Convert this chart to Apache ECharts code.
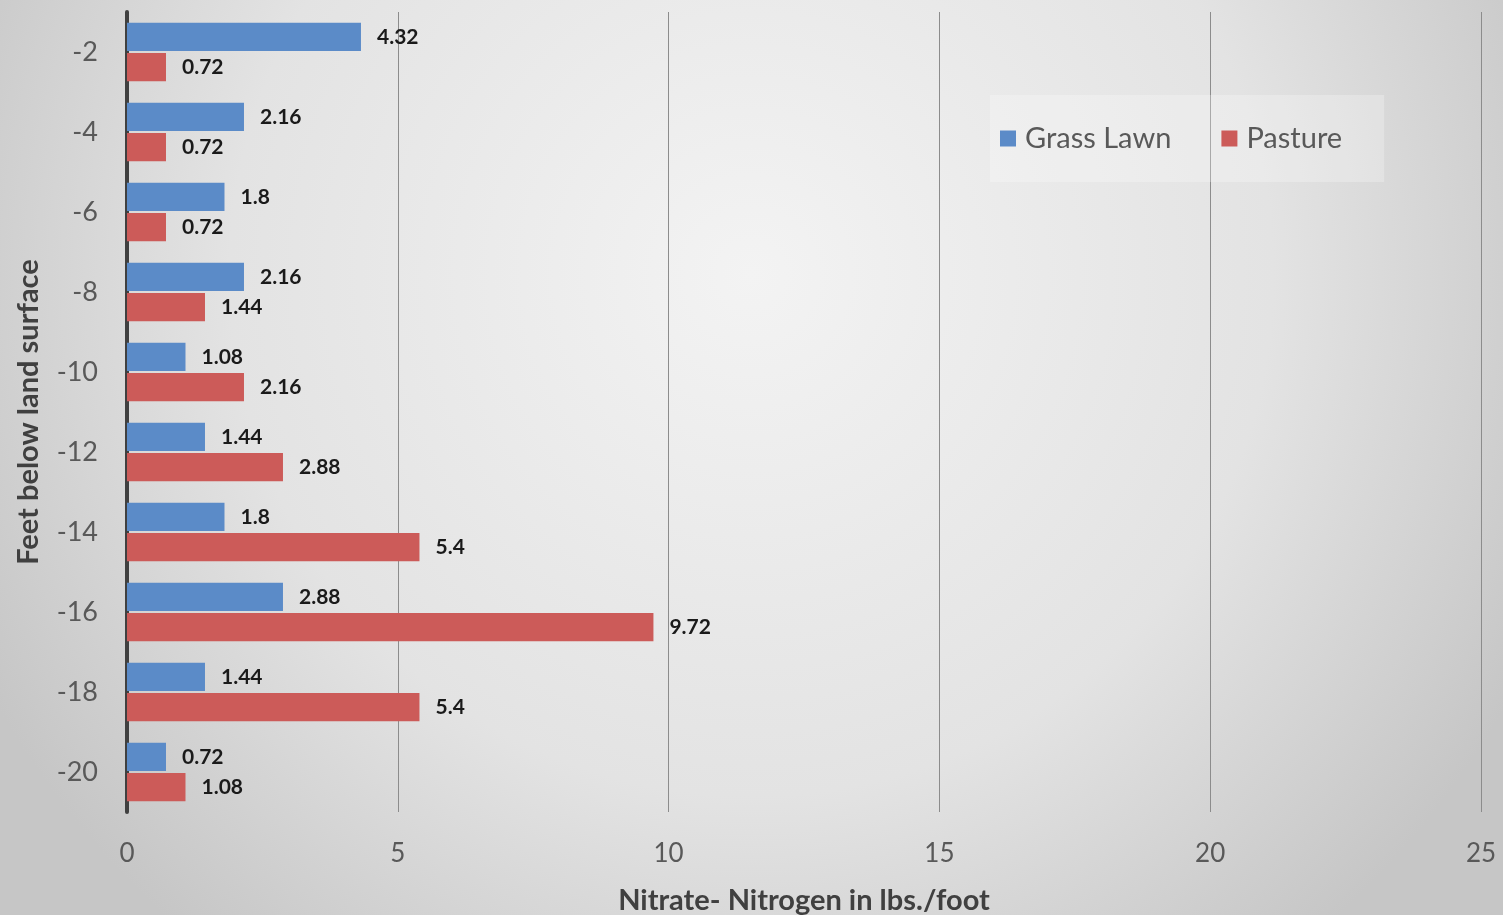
<!DOCTYPE html>
<html>
<head>
<meta charset="utf-8">
<script src="https://cdn.jsdelivr.net/npm/echarts@6/dist/echarts.min.js"></script>
<style>
  html, body { margin: 0; padding: 0; }
  #main { width: 1503px; height: 915px; }
</style>
</head>
<body>
<div id="main"></div>
<script>
// depth below land surface (ft)
var depths = ['-2', '-4', '-6', '-8', '-10', '-12', '-14', '-16', '-18', '-20'];
// nitrate-nitrogen, lbs./foot
var grassLawn = [4.32, 2.16, 1.8, 2.16, 1.08, 1.44, 1.8, 2.88, 1.44, 0.72];
var pasture = [0.72, 0.72, 0.72, 1.44, 2.16, 2.88, 5.4, 9.72, 5.4, 1.08];
var xTicks = [0, 5, 10, 15, 20, 25];

var font = 'Lato, "Open Sans", sans-serif';

var labelStyle = {
    show: true,
    position: 'right',
    distance: 16,
    color: '#1a1a1a',
    fontFamily: font,
    fontWeight: 'bold',
    fontSize: 21
};

var chart = echarts.init(document.getElementById('main'));
chart.setOption({
    backgroundColor: {
        type: 'radial', x: 0.5, y: 0.3, r: 0.95,
        colorStops: [
            { offset: 0, color: '#f3f3f3' },
            { offset: 0.6, color: '#e3e3e3' },
            { offset: 1, color: '#c6c6c6' }
        ]
    },
    animation: false,
    legend: {
        left: 990, top: 95,
        padding: [29, 42, 29, 10],
        backgroundColor: 'rgba(255,255,255,0.25)',
        itemWidth: 16, itemHeight: 16, itemGap: 50,
        icon: 'rect',
        textStyle: { color: '#595959', fontSize: 29, fontFamily: font, padding: [0, 0, 0, 4] },
        data: ['Grass Lawn', 'Pasture']
    },
    grid: { left: 127, right: 22, top: 12, bottom: 103, outerBoundsMode: 'none' },
    xAxis: {
        type: 'value',
        min: xTicks[0], max: xTicks[xTicks.length - 1], interval: 5,
        name: 'Nitrate- Nitrogen in lbs./foot',
        nameLocation: 'middle', nameGap: 74,
        nameTextStyle: { color: '#404040', fontSize: 29, fontWeight: 'bold', fontFamily: font },
        axisLine: { show: false },
        axisTick: { show: false },
        axisLabel: { color: '#595959', fontSize: 26, fontFamily: font, margin: 29 },
        splitLine: { lineStyle: { color: '#8c8c8c', width: 1 } }
    },
    yAxis: {
        type: 'category',
        data: depths,
        inverse: true,
        name: 'Feet below land surface',
        nameLocation: 'middle', nameGap: 84,
        nameTextStyle: { color: '#404040', fontSize: 29, fontWeight: 'bold', fontFamily: font },
        axisLine: { show: true, lineStyle: { color: '#404040', width: 4 } },
        axisTick: { show: false },
        axisLabel: { color: '#595959', fontSize: 27, fontFamily: font, margin: 29 },
        splitLine: { show: false }
    },
    series: [
        {
            name: 'Grass Lawn', type: 'bar', data: grassLawn,
            barCategoryGap: '27%', barGap: '7%',
            itemStyle: { color: '#5b8bc8' },
            label: labelStyle
        },
        {
            name: 'Pasture', type: 'bar', data: pasture,
            itemStyle: { color: '#cc5b59' },
            label: labelStyle
        }
    ]
});
</script>
</body>
</html>
